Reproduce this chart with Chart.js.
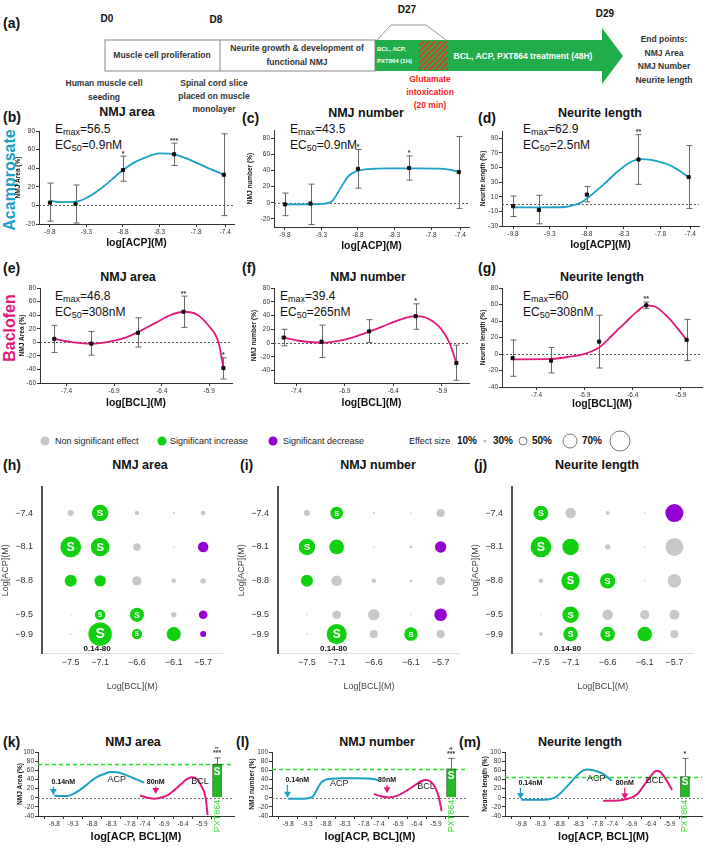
<!DOCTYPE html>
<html>
<head>
<meta charset="utf-8">
<script src="https://cdn.jsdelivr.net/npm/chart.js@4.4.1/dist/chart.umd.min.js"></script>
<style>
    body { margin: 0; width: 709px; height: 850px; position: relative; overflow: hidden; background: #fff;
        font-family: "Liberation Sans", Arial, sans-serif; color: #111; }
    canvas { position: absolute; }
    .t { position: absolute; white-space: nowrap; line-height: 1; transform: translateY(-50%); }
    .c { position: absolute; white-space: nowrap; line-height: 1; transform: translate(-50%, -50%); }
    .v { position: absolute; white-space: nowrap; line-height: 1; transform: translate(-50%, -50%) rotate(-90deg); }
    .b { font-weight: bold; }
    .lab { font-weight: bold; font-size: 14px; }
    .ttl { font-weight: bold; font-size: 12.5px; }
    .em { font-size: 12px; }
    .em sub { font-size: 9px; vertical-align: -2px; }
    .sch { font-weight: bold; font-size: 8.5px; color: #333; }
    .lg { font-size: 9px; color: #222; }
    .dot { position: absolute; border-radius: 50%; transform: translate(-50%, -50%); }
</style>
</head>
<body>

<!-- (a) timeline -->
<svg width="709" height="100" style="position:absolute;left:0;top:0">
    <defs>
        <pattern id="hatch" width="4" height="4" patternUnits="userSpaceOnUse" patternTransform="rotate(45)">
            <rect width="2" height="4" fill="#d2402a"/>
        </pattern>
    </defs>
    <rect x="105" y="40" width="270" height="31" fill="#fff" stroke="#888"/>
    <line x1="220" y1="40" x2="220" y2="71" stroke="#888"/>
    <polygon points="375,40 602,40 602,28 623,56 602,84 602,71 375,71" fill="#20ad4a"/>
    <rect x="419" y="41" width="29" height="29" fill="url(#hatch)"/>
    <polyline points="377,40 391,25 426,25 446,40" fill="none" stroke="#999"/>
</svg>
<div class="t lab" style="left:3px;top:23px">(a)</div>
<div class="c b" style="left:107px;top:19px;font-size:10px">D0</div>
<div class="c b" style="left:216px;top:20px;font-size:10px">D8</div>
<div class="c b" style="left:407px;top:10px;font-size:10px">D27</div>
<div class="c b" style="left:605px;top:14px;font-size:10px">D29</div>
<div class="c sch" style="left:162px;top:55px">Muscle cell proliferation</div>
<div class="c sch" style="left:297px;top:48px">Neurite growth &amp; development of</div>
<div class="c sch" style="left:297px;top:62px">functional NMJ</div>
<div class="t b" style="left:377px;top:49px;font-size:6px;color:#fff">BCL, ACP,</div>
<div class="t b" style="left:377px;top:61px;font-size:6px;color:#fff">PXT864 (1H)</div>
<div class="c b" style="left:523px;top:56px;font-size:8.5px;color:#fff">BCL, ACP, PXT864 treatment (48H)</div>
<div class="c sch" style="left:664px;top:39px">End points:</div>
<div class="c sch" style="left:664px;top:53px">NMJ Area</div>
<div class="c sch" style="left:664px;top:66px">NMJ Number</div>
<div class="c sch" style="left:664px;top:80px">Neurite length</div>
<div class="c sch" style="left:104px;top:83px">Human muscle cell</div>
<div class="c sch" style="left:104px;top:97px">seeding</div>
<div class="c sch" style="left:214px;top:83px">Spinal cord slice</div>
<div class="c sch" style="left:214px;top:96px">placed on muscle</div>
<div class="c sch" style="left:214px;top:109px">monolayer</div>
<div class="c sch" style="left:430px;top:79px;color:#ff2222">Glutamate</div>
<div class="c sch" style="left:430px;top:92px;color:#ff2222">intoxication</div>
<div class="c sch" style="left:430px;top:105px;color:#ff2222">(20 min)</div>

<!-- rows b-g labels -->
<div class="v b" style="left:10px;top:180px;font-size:16px;color:#1ba0c6">Acamprosate</div>
<div class="v b" style="left:10px;top:328px;font-size:16px;color:#e3187c">Baclofen</div>

<div class="t lab" style="left:3px;top:117px">(b)</div>
<div class="t lab" style="left:242px;top:118px">(c)</div>
<div class="t lab" style="left:478px;top:118px">(d)</div>
<div class="c ttl" style="left:127px;top:112px">NMJ area</div>
<div class="c ttl" style="left:366px;top:113px">NMJ number</div>
<div class="c ttl" style="left:600px;top:113px">Neurite length</div>
<div class="t em" style="left:55px;top:130px">E<sub>max</sub>=56.5</div>
<div class="t em" style="left:55px;top:146px">EC<sub>50</sub>=0.9nM</div>
<div class="t em" style="left:290px;top:130px">E<sub>max</sub>=43.5</div>
<div class="t em" style="left:290px;top:146px">EC<sub>50</sub>=0.9nM</div>
<div class="t em" style="left:523px;top:130px">E<sub>max</sub>=62.9</div>
<div class="t em" style="left:523px;top:146px">EC<sub>50</sub>=2.5nM</div>

<div class="t lab" style="left:3px;top:268px">(e)</div>
<div class="t lab" style="left:242px;top:268px">(f)</div>
<div class="t lab" style="left:478px;top:268px">(g)</div>
<div class="c ttl" style="left:128px;top:277px">NMJ area</div>
<div class="c ttl" style="left:368px;top:277px">NMJ number</div>
<div class="c ttl" style="left:602px;top:277px">Neurite length</div>
<div class="t em" style="left:55px;top:297px">E<sub>max</sub>=46.8</div>
<div class="t em" style="left:55px;top:313px">EC<sub>50</sub>=308nM</div>
<div class="t em" style="left:280px;top:297px">E<sub>max</sub>=39.4</div>
<div class="t em" style="left:280px;top:313px">EC<sub>50</sub>=265nM</div>
<div class="t em" style="left:523px;top:297px">E<sub>max</sub>=60</div>
<div class="t em" style="left:523px;top:313px">EC<sub>50</sub>=308nM</div>

<!-- legend for h-j -->
<div id="legend"></div>
<div class="t lg" style="left:55px;top:441px">Non significant effect</div>
<div class="t lg" style="left:170px;top:441px">Significant increase</div>
<div class="t lg" style="left:283px;top:441px">Significant decrease</div>
<div class="t lg" style="left:409px;top:441px">Effect size</div>
<div class="t b" style="left:457px;top:441px;font-size:10px">10%</div>
<div class="t b" style="left:493px;top:441px;font-size:10px">30%</div>
<div class="t b" style="left:532px;top:441px;font-size:10px">50%</div>
<div class="t b" style="left:582px;top:441px;font-size:10px">70%</div>

<div class="t lab" style="left:3px;top:465px">(h)</div>
<div class="t lab" style="left:240px;top:465px">(i)</div>
<div class="t lab" style="left:474px;top:465px">(j)</div>
<div class="c ttl" style="left:140px;top:465px">NMJ area</div>
<div class="c ttl" style="left:378px;top:465px">NMJ number</div>
<div class="c ttl" style="left:597px;top:465px">Neurite length</div>

<div class="t lab" style="left:3px;top:742px">(k)</div>
<div class="t lab" style="left:236px;top:742px">(l)</div>
<div class="t lab" style="left:459px;top:742px">(m)</div>
<div class="c ttl" style="left:133px;top:742px">NMJ area</div>
<div class="c ttl" style="left:377px;top:742px">NMJ number</div>
<div class="c ttl" style="left:580px;top:742px">Neurite length</div>

<script>
// ---- dose-response data (b-g) ----
const acpDoses = [-9.8, -9.45, -8.8, -8.1, -7.42]
const bclDoses = [-7.53, -7.14, -6.65, -6.17, -5.75]
const bclDosesNeurite = [-7.65, -7.25, -6.75, -6.26, -5.84]
const acpTicks = [-9.8, -9.3, -8.8, -8.3, -7.8, -7.4]
const bclTicks = [-7.4, -6.9, -6.4, -5.9]

const acpAreaMean = [3, 1.5, 38, 55, 33]
const acpAreaLo = [-17, -19, 26, 43, -11]
const acpAreaHi = [24, 22, 53, 67, 77]
const acpAreaStars = ["", "", "*", "***", ""]
const acpAreaCurve = [[-9.8, 5], [-9.65, 3.5], [-9.45, 4], [-9.3, 8], [-9.12, 17], [-8.95, 28], [-8.8, 38],
    [-8.65, 46], [-8.48, 52], [-8.3, 56], [-8.14, 55.5], [-7.95, 51], [-7.8, 46], [-7.6, 39], [-7.42, 33]]

const acpNumberMean = [-2, -1, 42, 43, 38]
const acpNumberLo = [-16, -27, 18, 28, -7]
const acpNumberHi = [12, 23, 66, 58, 82]
const acpNumberStars = ["", "", "*", "*", ""]
const acpNumberCurve = [[-9.8, -2], [-9.5, -2], [-9.3, -1.5], [-9.15, 2.5], [-9.04, 18], [-8.93, 33], [-8.82, 39],
    [-8.66, 41.7], [-8.4, 42.5], [-8.0, 42.5], [-7.7, 42.3], [-7.55, 41], [-7.42, 38]]

const acpNeuriteMean = [-3, -8, 13, 61, 37]
const acpNeuriteLo = [-17, -27, 3, 27, -6]
const acpNeuriteHi = [11, 12, 24, 95, 80]
const acpNeuriteStars = ["", "", "", "**", ""]
const acpNeuriteCurve = [[-9.8, -4.5], [-9.4, -4.5], [-9.1, -4], [-9.0, -2], [-8.88, 2], [-8.77, 10], [-8.56, 28],
    [-8.38, 45], [-8.2, 58], [-8.08, 61.5], [-7.93, 60.5], [-7.65, 52], [-7.42, 37]]

const bclAreaMean = [5, -2, 14, 45, -38]
const bclAreaLo = [-15, -19, -7, 22, -54]
const bclAreaHi = [25, 16, 36, 68, -23]
const bclAreaStars = ["", "", "", "**", "*"]
const bclAreaCurve = [[-7.53, 5], [-7.33, 0], [-7.14, -2], [-6.95, 1], [-6.78, 7], [-6.65, 15], [-6.46, 29],
    [-6.29, 41], [-6.17, 45], [-6.03, 41], [-5.91, 25], [-5.8, -1], [-5.75, -38]]

const bclNumberMean = [8, 2, 17, 39, -29]
const bclNumberLo = [-4, -21, 1, 20, -54]
const bclNumberHi = [20, 26, 34, 57, -3]
const bclNumberStars = ["", "", "", "*", ""]
const bclNumberCurve = [[-7.53, 8], [-7.35, 3], [-7.14, 0.5], [-6.9, 5], [-6.65, 16.6], [-6.46, 27], [-6.29, 36],
    [-6.17, 39], [-6.05, 36], [-5.91, 21], [-5.82, 0], [-5.75, -29]]

const bclNeuriteMean = [-5, -8, 15, 59, 17]
const bclNeuriteLo = [-27, -23, -17, 55, -8]
const bclNeuriteHi = [17, 8, 47, 63, 42]
const bclNeuriteStars = ["", "", "", "**", ""]
const bclNeuriteCurve = [[-7.65, -6.5], [-7.25, -6], [-7.06, -3.3], [-6.92, -0.4], [-6.75, 8], [-6.61, 23],
    [-6.47, 39], [-6.35, 52], [-6.26, 59], [-6.16, 57], [-6.02, 43], [-5.92, 29], [-5.84, 17]]

// ---- combination heat maps (h-j) ----
const heatBcl = [-7.5, -7.1, -6.6, -6.1, -5.7]
const heatAcp = [-7.4, -8.1, -8.8, -9.5, -9.9]
// effect size (%) per row of heatAcp, per column of heatBcl
const areaEffect = [[20, 55, 15, 7, 15], [69, 62, 25, 5, 35], [40, 38, 31, 15, 18], [5, 35, 47, 18, 29], [5, 78, 35, 47, 20]]
const numberEffect = [[20, 42, 7, 5, 27], [55, 49, 5, 9, 38], [40, 35, 15, 9, 29], [5, 29, 38, 5, 42], [5, 67, 27, 45, 27]]
const neuriteEffect = [[49, 35, 13, 5, 60], [69, 55, 18, 5, 60], [15, 62, 51, 5, 45], [5, 55, 35, 31, 33], [13, 49, 49, 49, 27]]
// n = not significant, i = increase, s = increase marked S, d = decrease
const areaSig = ["nsnnn", "ssnnd", "iinnn", "nssnd", "nssid"]
const numberSig = ["nsnnn", "sinnd", "innnn", "nnnnd", "nsnsn"]
const neuriteSig = ["snnnd", "sinnn", "nssnn", "nsnnn", "nssin"]
const legendSizes = [10, 30, 50, 70]

// ---- overlay panels (k-m) ----
const comboTicks = [-9.8, -9.3, -8.8, -8.3, -7.8, -7.4, -6.9, -6.4, -5.9]
const pxtX = -5.5
const pxtMean = [73, 63, 46]
const pxtHi = [87, 86, 86]
const pxtStars = [["***", "#"], ["***", "#"], ["*"]]

const teal = "#1ba0c6", pink = "#e3187c", green = "#10d010", purple = "#9400d3", grey = "#c8c8c8"
const sigColor = { n: grey, i: green, s: green, d: purple }
const rPerPct = 0.15
const PAD_T = 5, PAD_R = 4

Chart.defaults.font.family = '"Liberation Sans", Arial, sans-serif'
Chart.defaults.color = "#333"

const extras = {
    id: "extras",
    beforeDatasetsDraw(chart, args, o) {
        const { ctx, chartArea: a, scales: { x, y } } = chart
        ctx.save()
        ;(o.hLines || []).forEach((l) => {
            const py = Math.round(y.getPixelForValue(l.y)) + 0.5
            ctx.strokeStyle = l.color
            ctx.lineWidth = l.width || 1
            ctx.setLineDash(l.dash || [])
            ctx.beginPath()
            ctx.moveTo(a.left, py)
            ctx.lineTo(a.right, py)
            ctx.stroke()
        })
        ctx.setLineDash([])
        if (o.errors) {
            const e = o.errors
            ctx.strokeStyle = "#666"
            ctx.lineWidth = 1
            e.x.forEach((xv, i) => {
                const px = Math.round(x.getPixelForValue(xv)) + 0.5
                const top = y.getPixelForValue(e.hi[i])
                const bot = y.getPixelForValue(e.lo[i])
                ctx.beginPath()
                ctx.moveTo(px, top)
                ctx.lineTo(px, bot)
                ctx.moveTo(px - 3, top)
                ctx.lineTo(px + 3, top)
                if (!e.upOnly) {
                    ctx.moveTo(px - 3, bot)
                    ctx.lineTo(px + 3, bot)
                }
                ctx.stroke()
            })
        }
        ctx.restore()
    },
    afterDatasetsDraw(chart, args, o) {
        const { ctx, scales: { x, y } } = chart
        ctx.save()
        if (o.errors && o.errors.stars) {
            const e = o.errors
            ctx.fillStyle = "#333"
            ctx.font = "bold 7px 'Liberation Sans'"
            ctx.textAlign = "center"
            ctx.textBaseline = "bottom"
            e.stars.forEach((s, i) => {
                if (s) ctx.fillText(s, x.getPixelForValue(e.x[i]), y.getPixelForValue(e.hi[i]) + 1)
            })
        }
        ;(o.arrows || []).forEach((ar) => {
            const px = x.getPixelForValue(ar.x)
            const y1 = y.getPixelForValue(ar.y1), y2 = y.getPixelForValue(ar.y2)
            ctx.strokeStyle = ar.color
            ctx.fillStyle = ar.color
            ctx.lineWidth = 1.3
            ctx.beginPath()
            ctx.moveTo(px, y1)
            ctx.lineTo(px, y2 - 5)
            ctx.stroke()
            ctx.beginPath()
            ctx.moveTo(px - 3.5, y2 - 6)
            ctx.lineTo(px + 3.5, y2 - 6)
            ctx.lineTo(px, y2)
            ctx.closePath()
            ctx.fill()
            ctx.fillStyle = "#111"
            ctx.font = "bold 7px 'Liberation Sans'"
            ctx.textAlign = ar.align || "center"
            ctx.textBaseline = "bottom"
            ctx.fillText(ar.label, px + (ar.align == "left" ? -2 : 0), y1 - 1)
        })
        ;(o.texts || []).forEach((t) => {
            ctx.save()
            ctx.translate(x.getPixelForValue(t.x) + (t.dx || 0), y.getPixelForValue(t.y) + (t.dy || 0))
            if (t.rot) ctx.rotate(t.rot)
            ctx.fillStyle = t.color || "#222"
            ctx.font = t.font || "9px 'Liberation Sans'"
            ctx.textAlign = t.align || "center"
            ctx.textBaseline = t.baseline || "middle"
            ctx.fillText(t.text, 0, 0)
            ctx.restore()
        })
        ctx.restore()
    },
}

const sLabels = {
    id: "sLabels",
    afterDatasetsDraw(chart) {
        const { ctx } = chart
        chart.data.datasets.forEach((ds, di) => {
            if (!ds.flags) return
            chart.getDatasetMeta(di).data.forEach((el, i) => {
                if (!ds.flags[i]) return
                const r = el.options.radius
                ctx.save()
                ctx.fillStyle = "#fff"
                ctx.font = `bold ${Math.max(6, r * 1.2)}px 'Liberation Sans'`
                ctx.textAlign = "center"
                ctx.textBaseline = "middle"
                ctx.fillText("S", el.x, el.y + 0.5)
                ctx.restore()
            })
        })
    },
}

function mount(plot, yW, xH) {
    const [l, t, r, b] = plot
    const c = document.createElement("canvas")
    const w = r - l + yW + PAD_R
    const h = b - t + PAD_T + xH
    c.width = w
    c.height = h
    c.style.left = l - yW + "px"
    c.style.top = t - PAD_T + "px"
    document.body.appendChild(c)
    return c
}

function axis(min, max, ticks, title, o) {
    return {
        type: "linear",
        min,
        max,
        afterBuildTicks: (s) => {
            s.ticks = ticks.map((v) => ({ value: v }))
        },
        afterFit: (s) => {
            if (s.isHorizontal()) s.height = o.size
            else s.width = o.size
        },
        border: { color: o.axisColor || "#333", width: o.axisWidth || 1 },
        grid: { drawOnChartArea: false, drawTicks: o.tick !== 0, tickLength: o.tick ?? 3, color: o.axisColor || "#333" },
        ticks: {
            autoSkip: false,
            maxRotation: 0,
            padding: o.pad ?? 1,
            color: o.tickColor || "#333",
            font: { size: o.tickFont || 6.5 },
            callback: o.fmt || ((v) => v),
        },
        title: {
            display: true,
            text: title,
            color: o.titleColor || "#111",
            font: { size: o.titleFont, weight: o.titleWeight || "bold" },
            padding: { top: 0, bottom: 0 },
        },
    }
}

function baseOptions(scales, extrasOpts) {
    return {
        responsive: false,
        animation: false,
        devicePixelRatio: 1,
        layout: { padding: { top: PAD_T, right: PAD_R, left: 0, bottom: 0 } },
        plugins: { legend: { display: false }, tooltip: { enabled: false }, extras: extrasOpts },
        scales,
    }
}

function doseChart(geo, d) {
    const canvas = mount(geo.plot, geo.yW, geo.xH)
    return new Chart(canvas, {
        type: "line",
        plugins: [extras],
        data: {
            datasets: [
                {
                    data: d.doses.map((x, i) => ({ x, y: d.mean[i] })),
                    showLine: false,
                    pointStyle: "rect",
                    pointRadius: 2.2,
                    pointBackgroundColor: "#111",
                    pointBorderColor: "#111",
                },
                {
                    data: d.curve.map(([x, y]) => ({ x, y })),
                    borderColor: d.color,
                    borderWidth: 1.8,
                    pointRadius: 0,
                    cubicInterpolationMode: "monotone",
                },
            ],
        },
        options: baseOptions(
            {
                x: axis(geo.x[0], geo.x[1], d.xTicks, d.xTitle, { size: geo.xH, titleFont: 10.5, fmt: (v) => v.toFixed(1) }),
                y: axis(geo.y[0], geo.y[1], geo.yTicks, d.yTitle, { size: geo.yW, titleFont: 6.5 }),
            },
            {
                hLines: [{ y: 0, color: "#555", dash: [2, 2] }],
                errors: { x: d.doses, lo: d.lo, hi: d.hi, stars: d.stars },
            }
        ),
    })
}

function heatChart(geo, effects, sig) {
    const canvas = mount(geo.plot, 42, 39)
    const pts = [], colors = [], flags = []
    heatAcp.forEach((yv, r) =>
        heatBcl.forEach((xv, c) => {
            pts.push({ x: xv, y: yv, r: Math.max(effects[r][c] * rPerPct, 0.7) })
            colors.push(sigColor[sig[r][c]])
            flags.push(sig[r][c] == "s")
        })
    )
    const fmt = (v) => "\u2212" + Math.abs(v).toFixed(1)
    return new Chart(canvas, {
        type: "bubble",
        plugins: [extras, sLabels],
        data: { datasets: [{ data: pts, backgroundColor: colors, borderWidth: 0, flags }] },
        options: baseOptions(
            {
                x: axis(-7.89, -5.44, heatBcl, "Log[BCL](M)", {
                    size: 39, tick: 0, pad: 4, tickFont: 9, titleFont: 9, titleWeight: "normal",
                    axisColor: "#ddd", tickColor: "#333", titleColor: "#444", fmt,
                }),
                y: axis(-10.29, -6.87, heatAcp, "Log[ACP](M)", {
                    size: 42, tick: 0, pad: 9, tickFont: 9, titleFont: 9, titleWeight: "normal",
                    axisColor: "#555", axisWidth: 2, tickColor: "#333", titleColor: "#444", fmt,
                }),
            },
            {
                texts: [{ x: -7.1, y: -9.9, dx: -3, dy: 15, text: "0.14-80", font: "bold 8px 'Liberation Sans'", color: "#111" }],
            }
        ),
    })
}

function comboChart(geo, k, acpCurve, bclCurve, yTitle, notes) {
    const canvas = mount(geo.plot, geo.yW, 28)
    const texts = [
        { x: pxtX, y: pxtMean[k] * 0.75, text: "S", color: "#fff", font: "bold 10px 'Liberation Sans'" },
        { x: pxtX, y: 0, dy: 2, text: "PXT864", rot: -Math.PI / 2, align: "right", color: "#33dd33", font: "9px 'Liberation Sans'" },
        ...pxtStars[k].map((s, i) => ({
            x: pxtX, y: pxtHi[k], dy: -1 - i * 6, text: s, baseline: "bottom", color: "#333", font: "bold 7px 'Liberation Sans'",
        })),
        { x: notes.acp[0], y: notes.acp[1], text: "ACP" },
        { x: notes.bcl[0], y: notes.bcl[1], text: "BCL" },
    ]
    return new Chart(canvas, {
        type: "line",
        plugins: [extras],
        data: {
            datasets: [
                {
                    data: acpCurve.map(([x, y]) => ({ x, y })),
                    borderColor: teal,
                    borderWidth: 2,
                    pointRadius: 0,
                    cubicInterpolationMode: "monotone",
                },
                {
                    data: bclCurve.map(([x, y]) => ({ x, y })),
                    borderColor: pink,
                    borderWidth: 2,
                    pointRadius: 0,
                    cubicInterpolationMode: "monotone",
                },
                {
                    type: "bar",
                    data: [{ x: pxtX, y: pxtMean[k] }],
                    barThickness: 9,
                    backgroundColor: "#22bb22",
                    borderColor: "#2a5a2a",
                    borderWidth: 1,
                },
            ],
        },
        options: baseOptions(
            {
                x: axis(-9.94, -5.34, comboTicks, "log[ACP, BCL](M)", { size: 28, titleFont: 11, fmt: (v) => v.toFixed(1) }),
                y: axis(-40, 100, [-40, -20, 0, 20, 40, 60, 80, 100], yTitle, { size: geo.yW, titleFont: 6.5 }),
            },
            {
                hLines: [
                    { y: 0, color: "#777", dash: [2, 2] },
                    { y: pxtMean[k], color: "#22dd22", dash: [4, 3], width: 1.5 },
                ],
                errors: { x: [pxtX], lo: [pxtMean[k]], hi: [pxtHi[k]], upOnly: true },
                arrows: [
                    { x: -9.82, y1: notes.a1[0], y2: notes.a1[1], color: teal, label: "0.14nM", align: "left" },
                    { x: notes.a2[0], y1: notes.a2[1], y2: notes.a2[2], color: pink, label: "80nM" },
                ],
                texts,
            }
        ),
    })
}

// legend circles
const legend = document.getElementById("legend")
const dot = (cx, r, style) => {
    const e = document.createElement("div")
    e.className = "dot"
    e.style.cssText = `left:${cx}px;top:441px;width:${2 * r}px;height:${2 * r}px;${style}`
    legend.appendChild(e)
}
dot(45, 4.5, `background:${grey}`)
dot(162, 4.5, `background:${green}`)
dot(273, 4.5, `background:${purple}`)
;[485, 523, 570, 620].forEach((cx, i) => {
    const r = legendSizes[i] * rPerPct
    dot(cx, r, i == 0 ? "background:#bbb" : "border:1px solid #777;box-sizing:border-box")
})

// rows b-g
const acpGeo = { x: [-9.95, -7.28] }
doseChart({ ...acpGeo, plot: [39, 131, 235, 224], yW: 25, xH: 25, y: [-20, 80], yTicks: [-20, 0, 20, 40, 60, 80] },
    { doses: acpDoses, mean: acpAreaMean, lo: acpAreaLo, hi: acpAreaHi, stars: acpAreaStars, curve: acpAreaCurve,
      color: teal, xTicks: acpTicks, xTitle: "log[ACP](M)", yTitle: "NMJ Area (%)" })
doseChart({ ...acpGeo, plot: [274, 130, 470, 227], yW: 28, xH: 25, y: [-30, 90], yTicks: [-20, 0, 20, 40, 60, 80] },
    { doses: acpDoses, mean: acpNumberMean, lo: acpNumberLo, hi: acpNumberHi, stars: acpNumberStars, curve: acpNumberCurve,
      color: teal, xTicks: acpTicks, xTitle: "log[ACP](M)", yTitle: "NMJ number (%)" })
doseChart({ ...acpGeo, plot: [502, 131, 700, 226], yW: 23, xH: 25, y: [-30, 100], yTicks: [-30, -10, 10, 30, 50, 70, 90] },
    { doses: acpDoses, mean: acpNeuriteMean, lo: acpNeuriteLo, hi: acpNeuriteHi, stars: acpNeuriteStars, curve: acpNeuriteCurve,
      color: teal, xTicks: acpTicks, xTitle: "log[ACP](M)", yTitle: "Neurite length (%)" })

doseChart({ x: [-7.68, -5.66], plot: [40, 288, 233, 383], yW: 22, xH: 26, y: [-60, 80], yTicks: [-60, -40, -20, 0, 20, 40, 60, 80] },
    { doses: bclDoses, mean: bclAreaMean, lo: bclAreaLo, hi: bclAreaHi, stars: bclAreaStars, curve: bclAreaCurve,
      color: pink, xTicks: bclTicks, xTitle: "log[BCL](M)", yTitle: "NMJ Area (%)" })
doseChart({ x: [-7.63, -5.62], plot: [274, 288, 470, 383], yW: 24, xH: 26, y: [-58, 80], yTicks: [-40, -20, 0, 20, 40, 60, 80] },
    { doses: bclDoses, mean: bclNumberMean, lo: bclNumberLo, hi: bclNumberHi, stars: bclNumberStars, curve: bclNumberCurve,
      color: pink, xTicks: bclTicks, xTitle: "log[BCL](M)", yTitle: "NMJ number (%)" })
doseChart({ x: [-7.76, -5.68], plot: [502, 288, 703, 387], yW: 23, xH: 23, y: [-40, 80], yTicks: [-40, -20, 0, 20, 40, 60, 80] },
    { doses: bclDosesNeurite, mean: bclNeuriteMean, lo: bclNeuriteLo, hi: bclNeuriteHi, stars: bclNeuriteStars, curve: bclNeuriteCurve,
      color: pink, xTicks: bclTicks, xTitle: "log[BCL](M)", yTitle: "Neurite length (%)" })

// rows h-j
heatChart({ plot: [42, 478, 230, 653] }, areaEffect, areaSig)
heatChart({ plot: [278, 478, 466, 653] }, numberEffect, numberSig)
heatChart({ plot: [512, 478, 700, 653] }, neuriteEffect, neuriteSig)

// rows k-m
comboChart({ plot: [38, 752, 234, 816], yW: 22 }, 0, acpAreaCurve, bclAreaCurve, "NMJ Area (%)",
    { a1: [24, 6], a2: [-7.12, 24, 8], acp: [-8.15, 40], bcl: [-5.95, 36] })
comboChart({ plot: [272, 752, 468, 816], yW: 24 }, 1, acpNumberCurve, bclNumberCurve, "NMJ number (%)",
    { a1: [28, 0], a2: [-7.19, 28, 10], acp: [-8.45, 32], bcl: [-6.16, 24] })
comboChart({ plot: [505, 752, 702, 816], yW: 24 }, 2, acpNeuriteCurve, bclNeuriteCurve, "Neurite length (%)",
    { a1: [22, -3], a2: [-7.08, 22, -4], acp: [-7.83, 42], bcl: [-6.3, 38] })
</script>
</body>
</html>
